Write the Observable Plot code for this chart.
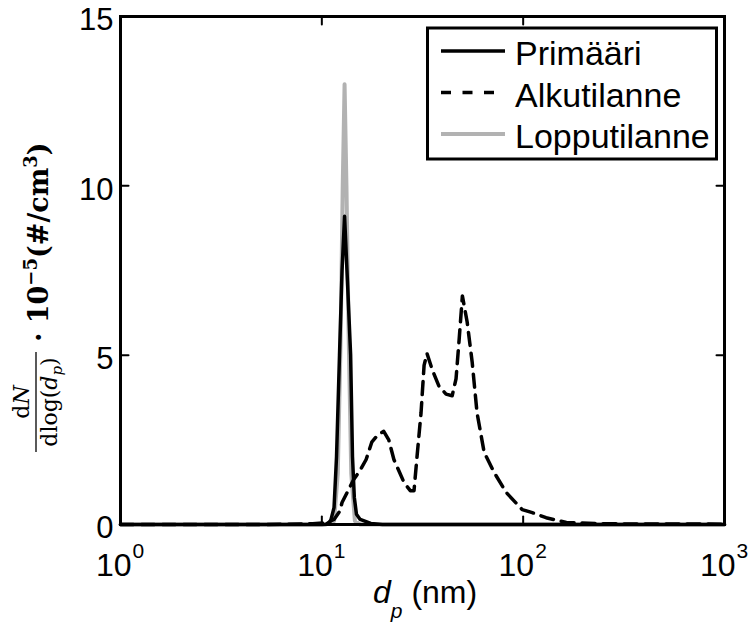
<!DOCTYPE html>
<html><head><meta charset="utf-8">
<script src="https://cdn.jsdelivr.net/npm/d3@7"></script>
<script src="https://cdn.jsdelivr.net/npm/@observablehq/plot@0.6"></script>
<style>body{margin:0;background:#fff}</style>
</head><body><div id="chart"></div>
<script>
// Primääri
const dpPrimaari = [1, 10, 10.5, 11.05, 11.5, 11.83, 12.24, 12.6, 12.97, 13.4, 13.9, 14.2, 14.5, 14.86, 15.5, 17.5, 20, 1000];
const nPrimaari  = [0, 0, 0.01, 0.1, 0.5, 2.0, 5.0, 7.5, 9.1, 7.2, 5.0, 2.0, 0.8, 0.3, 0.15, 0.03, 0, 0];
// Alkutilanne
const dpAlku = [1, 5, 9, 10.5, 11.5, 12.3, 12.6, 13.5, 14.4, 15.5, 16.6, 17.7, 19, 20.3, 21.5, 22.8, 25.6, 27.5, 28.7, 29.7, 31.1, 32.2, 33.3, 35.3, 38.2, 41.4, 44.4, 46.4, 48.1, 49.9, 52.7, 55.8, 59, 64, 71.7, 82.3, 98.9, 111, 130, 164, 250, 1000];
const nAlku  = [0, 0, 0.02, 0.05, 0.15, 0.4, 0.65, 1.0, 1.33, 1.6, 1.92, 2.43, 2.65, 2.75, 2.5, 1.92, 1.24, 1.0, 1.0, 2.0, 3.3, 4.7, 5.05, 4.58, 4.08, 3.85, 3.8, 4.3, 5.47, 6.75, 5.98, 4.8, 3.3, 2.13, 1.54, 0.95, 0.44, 0.35, 0.2, 0.06, 0.02, 0.01];
// Lopputilanne
const dpLoppu = [1, 10.5, 11.5, 12.0, 12.4, 12.7, 12.97, 13.25, 13.6, 14.0, 14.6, 15.5, 1000];
const nLoppu  = [0, 0, 0.1, 1.5, 5.5, 10, 13, 10, 5.5, 1.5, 0.1, 0, 0];

const xTicks = [1, 10, 100, 1000];
const xTickBase = ["10", "10", "10", "10"];
const xTickExp = ["0", "1", "2", "3"];
const yTicks = [0, 5, 10, 15];
const yTickLabels = ["0", "5", "10", "15"];
const seriesNames = ["Primääri", "Alkutilanne", "Lopputilanne"];
const seriesColors = ["#000000", "#000000", "#b2b2b2"];
const seriesWidths = [3.5, 3.5, 4];
const seriesDash = [null, "13,8", null];

const rows = (xs, ys) => xs.map((x, i) => ({dp: x, n: ys[i]}));
const prim = rows(dpPrimaari, nPrimaari);
const alku = rows(dpAlku, nAlku);
const loppu = rows(dpLoppu, nLoppu);

const tickShape = {draw(ctx, l) { ctx.moveTo(0, 0); ctx.lineTo(0, -l); }};
const sans = "'Liberation Sans', Arial, Helvetica, sans-serif";

const plot = Plot.plot({
  width: 750, height: 634,
  marginLeft: 120, marginRight: 26, marginTop: 16, marginBottom: 110,
  x: {type: "log", domain: [1, 1000], axis: null},
  y: {domain: [0, 15], axis: null},
  style: {fontFamily: sans, background: "white", color: "black"},
  marks: [
    Plot.line(loppu, {x: "dp", y: "n", stroke: seriesColors[2], strokeWidth: seriesWidths[2]}),
    Plot.line(alku, {x: "dp", y: "n", stroke: seriesColors[1], strokeWidth: seriesWidths[1], strokeDasharray: seriesDash[1]}),
    Plot.line(prim, {x: "dp", y: "n", stroke: seriesColors[0], strokeWidth: seriesWidths[0]}),
    Plot.frame({stroke: "black", strokeWidth: 3}),
    // inward ticks on all four sides
    Plot.vector(xTicks, {x: d => d, y: 0, length: 8, rotate: 0, anchor: "start", shape: tickShape, stroke: "black", strokeWidth: 2}),
    Plot.vector(xTicks, {x: d => d, y: 15, length: 8, rotate: 180, anchor: "start", shape: tickShape, stroke: "black", strokeWidth: 2}),
    Plot.vector(yTicks, {x: 1, y: d => d, length: 8, rotate: 90, anchor: "start", shape: tickShape, stroke: "black", strokeWidth: 2}),
    Plot.vector(yTicks, {x: 1000, y: d => d, length: 8, rotate: 270, anchor: "start", shape: tickShape, stroke: "black", strokeWidth: 2}),
    // tick labels
    Plot.text(xTicks, {x: d => d, y: 0, text: (d, i) => xTickBase[i], fontSize: 32, textAnchor: "end", lineAnchor: "bottom", dx: 11, dy: 51, fill: "black"}),
    Plot.text(xTicks, {x: d => d, y: 0, text: (d, i) => xTickExp[i], fontSize: 21, textAnchor: "start", lineAnchor: "bottom", dx: 12, dy: 33, fill: "black"}),
    Plot.text(yTicks, {x: 1, y: d => d, text: (d, i) => yTickLabels[i], fontSize: 31, textAnchor: "end", lineAnchor: "middle", dx: -7, dy: 4, fill: "black"})
  ]
});

const svg = d3.select(plot);

// x label: d_p (nm)
const xl = svg.append("text").attr("x", 373).attr("y", 603).attr("text-anchor", "start")
  .attr("font-family", sans).attr("font-size", 32).attr("fill", "black");
xl.append("tspan").attr("font-style", "italic").text("d");
xl.append("tspan").attr("font-style", "italic").attr("font-size", 21).attr("dy", 15).text("p");
xl.append("tspan").attr("dy", -15).text(" (nm)");

// y label (rotated)
const serif = "'DejaVu Serif', 'Liberation Serif', serif";
const yl = svg.append("g").attr("transform", "translate(36,452) rotate(-90)")
  .attr("font-family", serif).attr("fill", "black");
yl.append("line").attr("x1", 0).attr("x2", 100).attr("y1", 0).attr("y2", 0)
  .attr("stroke", "black").attr("stroke-width", 1.3);
const num = yl.append("text").attr("x", 50).attr("y", -7).attr("text-anchor", "middle").attr("font-size", 22);
num.append("tspan").text("d");
num.append("tspan").attr("font-style", "italic").text("N");
const den = yl.append("text").attr("x", 50).attr("y", 21).attr("text-anchor", "middle").attr("font-size", 22);
den.append("tspan").text("dlog(");
den.append("tspan").attr("font-style", "italic").text("d");
den.append("tspan").attr("font-style", "italic").attr("font-size", 15).attr("dy", 5).text("p");
den.append("tspan").attr("dy", -5).text(")");
const main = yl.append("text").attr("x", 110).attr("y", 12).attr("text-anchor", "start").attr("font-size", 27).attr("font-weight", "bold");
main.append("tspan").text("· 10");
main.append("tspan").attr("font-size", 18).attr("dy", -11).text("−5");
main.append("tspan").attr("dy", 11).text("(#/cm");
main.append("tspan").attr("font-size", 18).attr("dy", -11).text("3");
main.append("tspan").attr("dy", 11).text(")");

// legend
const lg = svg.append("g");
lg.append("rect").attr("x", 427.5).attr("y", 28).attr("width", 289).attr("height", 131)
  .attr("fill", "white").attr("stroke", "black").attr("stroke-width", 3);
const rowY = [51, 92.5, 134];
seriesNames.forEach((name, i) => {
  lg.append("line").attr("x1", 441).attr("x2", 505).attr("y1", rowY[i]).attr("y2", rowY[i])
    .attr("stroke", seriesColors[i]).attr("stroke-width", seriesWidths[i])
    .attr("stroke-dasharray", i === 1 ? "10,11.5" : null);
  lg.append("text").attr("x", 515).attr("y", rowY[i] + 14).attr("text-anchor", "start").attr("font-family", sans)
    .attr("font-size", 34).attr("fill", "black").text(name);
});

document.getElementById("chart").appendChild(plot);
</script>
</body></html>
